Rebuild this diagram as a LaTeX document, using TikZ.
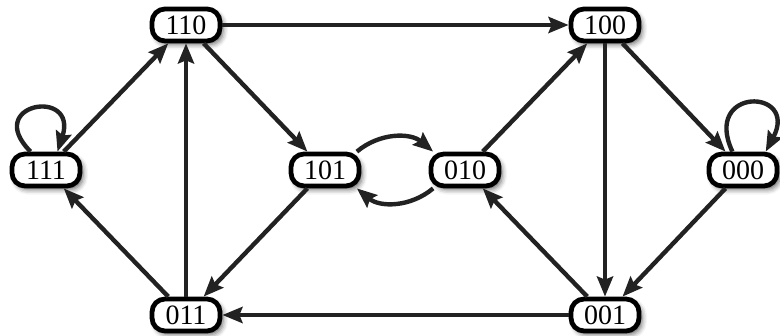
\documentclass[tikz,border=0pt]{standalone}
\usepackage{fontspec}
\setmainfont{Liberation Serif}
\usepackage{tikz}
\usetikzlibrary{arrows.meta, positioning, shadows.blur}
\definecolor{edgegrey}{HTML}{222222}
\tikzset{
  state/.style={rectangle, rounded corners=6.5pt, draw=black, line width=2.4pt,
                fill=white, minimum width=34pt, minimum height=16pt, inner sep=0pt,
                font=\fontsize{14}{15}\selectfont,
                blur shadow={shadow xshift=1.5pt, shadow yshift=-1.8pt,
                             shadow blur radius=2.5pt, shadow opacity=60}},
  arrow/.style={-{Stealth[length=10pt, width=8pt, inset=1.5pt]}, line width=2.2pt, draw=edgegrey},
}

\begin{document}
\begin{tikzpicture}[on grid, node distance=72.5pt and 70pt]
  \useasboundingbox (-23pt,-83pt) rectangle (367pt,85pt);

  % Left half
  \node[state] (s111) at (0,0) {111};
  \node[state, above right=of s111] (s110) {110};
  \node[state, below right=of s111] (s011) {011};
  \node[state, right=139.5pt of s111] (s101) {101};

  % Right half
  \node[state, right=70pt of s101] (s010) {010};
  \node[state, above right=of s010] (s100) {100};
  \node[state, below right=of s010] (s001) {001};
  \node[state, right=139pt of s010] (s000) {000};

  % Transitions, left half
  \draw[arrow] (s111) -- (s110);
  \draw[arrow] (s011) -- (s110);
  \draw[arrow] (s110) -- (s101);
  \draw[arrow] (s011) -- (s111);
  \draw[arrow] (s101) -- (s011);
  \draw[arrow] (s111.130) to[out=135, in=72, distance=34pt] (s111.58);

  % Middle
  \draw[arrow] (s110) -- (s100);
  \draw[arrow] (s001) -- (s011);
  \draw[arrow] (s101.30) to[out=40, in=140] (s010.150);
  \draw[arrow] (s010.-150) to[out=-140, in=-40] (s101.-30);

  % Transitions, right half
  \draw[arrow] (s010) -- (s100);
  \draw[arrow] (s100) -- (s001);
  \draw[arrow] (s100) -- (s000);
  \draw[arrow] (s000) -- (s001);
  \draw[arrow] (s001) -- (s010);
  \draw[arrow] (s000.120) to[out=115, in=62, distance=36pt] (s000.39);

\end{tikzpicture}
\end{document}
